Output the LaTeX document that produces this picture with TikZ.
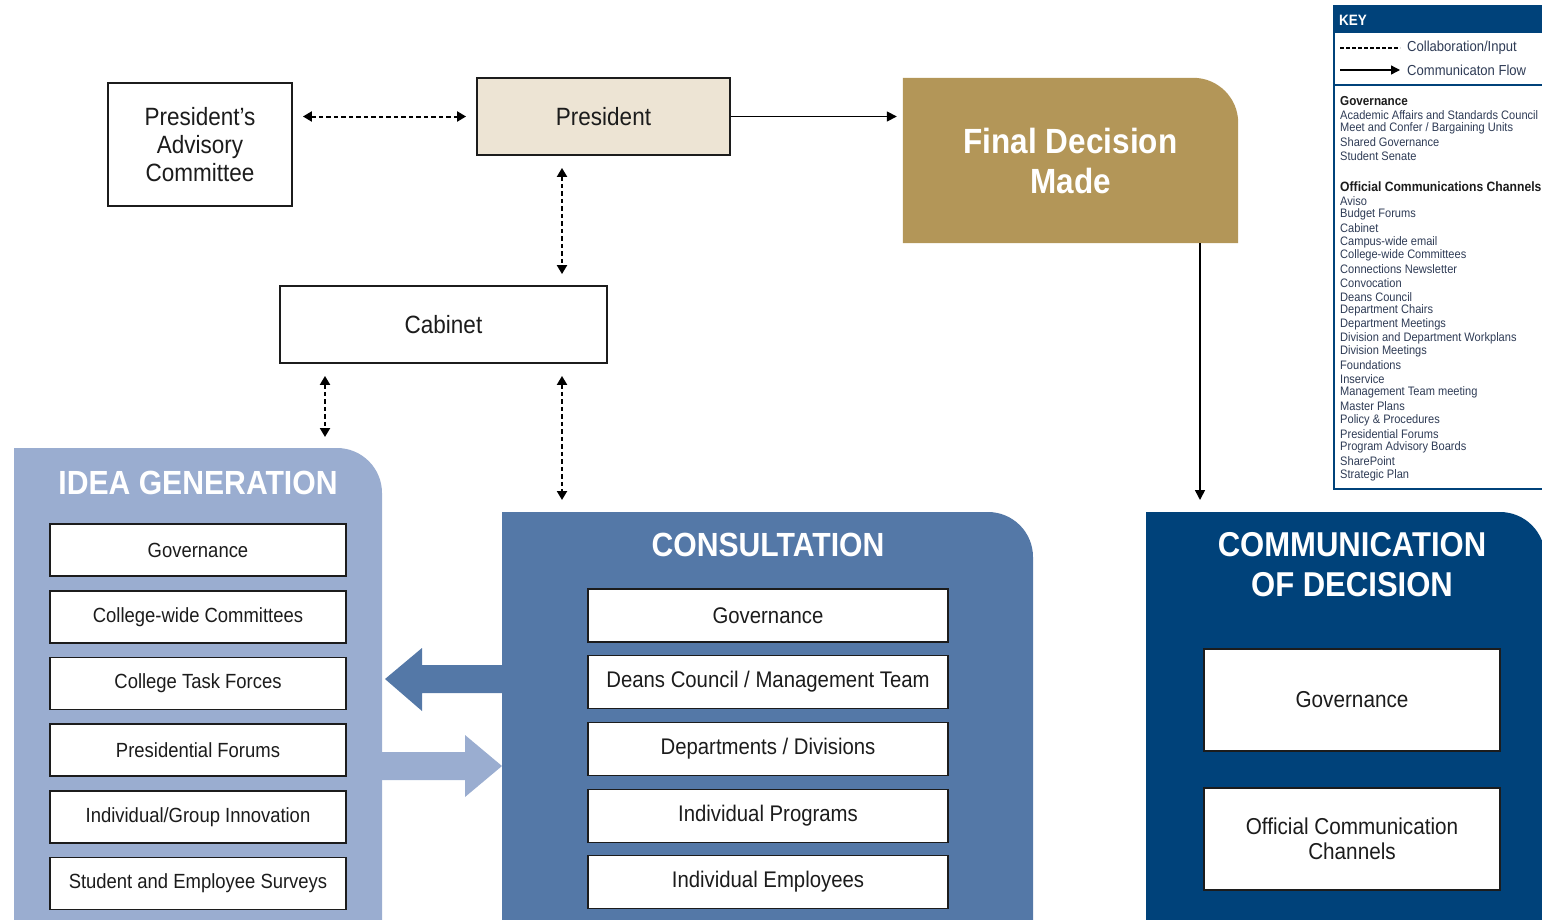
\documentclass[tikz,border=0pt]{standalone}
\usepackage{fontspec}
\setmainfont{Liberation Sans}[FakeStretch=0.9]
\usetikzlibrary{arrows.meta}
\usetikzlibrary{backgrounds}
\definecolor{ideablue}{HTML}{9AADD0}
\definecolor{consblue}{HTML}{5478A7}
\definecolor{navy}{HTML}{00427A}
\definecolor{gold}{HTML}{B39658}
\definecolor{beige}{HTML}{EDE4D4}
\definecolor{ink}{HTML}{1C1C1C}
\definecolor{keyink}{HTML}{2E3B55}
\tikzset{
box/.style={ % white boxes inside the panels
draw=ink,
line width=1.8pt,
fill=white,
inner sep=0pt,
align=center,
text=ink},
ideabox/.style={box, minimum width=296pt, minimum height=52pt, font=\fontsize{20.5}{22}\selectfont},
consbox/.style={box, minimum width=360pt, minimum height=53pt, font=\fontsize{22.6}{24}\selectfont},
commbox/.style={box, minimum width=296pt, minimum height=102pt, font=\fontsize{23}{25}\selectfont},
topbox/.style={box, font=\fontsize{25}{28}\selectfont}, % boxes of the top row
title/.style={text=white, font=\bfseries\fontsize{33.5}{40}\selectfont, align=center},
collab/.style={ % dashed, both ways
{Triangle[length=9pt,width=10pt]}-{Triangle[length=9pt,width=10pt]},
line width=2pt,
dash pattern=on 4.5pt off 3pt},
flow/.style={ % solid, one way
-{Triangle[length=10pt,width=10pt]},
line width=1.6pt},
keyitem/.style={anchor=west, inner sep=0pt, text=keyink, font=\fontsize{12.3}{12}\selectfont}}

\begin{document}
\begin{tikzpicture}[x=1pt, y=-1pt]
\useasboundingbox (0,0) rectangle (1542,919);

% panels
\fill[ideablue] (14,925) -- (14,448) -- (337,448) arc[start angle=90, end angle=0, radius=45pt] -- (382,925) -- cycle;
\fill[consblue] (502,925) -- (502,512) -- (988,512) arc[start angle=90, end angle=0, radius=45pt] -- (1033,925) -- cycle;
\fill[navy] (1146,925) -- (1146,512) -- (1500,512) arc[start angle=90, end angle=0, radius=45pt] -- (1545,925) -- cycle;
\coordinate (ideatop) at (325,448);
\coordinate (constop) at (562,512);
\coordinate (commtop) at (1200,512);

% top row
\node[topbox, minimum width=184pt, minimum height=123pt] (pac) at (200,144.5) {President's\\Advisory\\Committee};
\node[topbox, fill=beige, minimum width=253pt, minimum height=77pt] (pres) at (603.5,116.5) {President};
\node[topbox, minimum width=327pt, minimum height=77pt] (cab) at (443.5,324.5) {Cabinet};
\node[title, minimum width=335pt, minimum height=165pt, inner sep=0pt, font=\bfseries\fontsize{35}{40}\selectfont] (final) at (1070.5,160.5) {Final Decision\\Made};
\begin{scope}[on background layer]
\fill[gold] (final.south west) -- (final.north west) -- ([xshift=-45pt]final.north east) arc[start angle=90, end angle=0, radius=45pt] -- (final.south east) -- cycle;
\end{scope}

% titles of the panels
\node[title] (ideatitle) at (198,483) {IDEA GENERATION};
\node[title] (constitle) at (768,545) {CONSULTATION};
\node[title, font=\bfseries\fontsize{34.5}{40}\selectfont] (commtitle) at (1352,565) {COMMUNICATION\\OF DECISION};

% idea generation
\node[ideabox] (ig1) at (198,550) {Governance};
\node[ideabox] (ig2) at (198,617) {College-wide Committees};
\node[ideabox] (ig3) at (198,683.5) {College Task Forces};
\node[ideabox] (ig4) at (198,750) {Presidential Forums};
\node[ideabox] (ig5) at (198,817) {Individual/Group Innovation};
\node[ideabox] (ig6) at (198,883.5) {Student and Employee Surveys};

% consultation
\node[consbox] (cs1) at (768,615.5) {Governance};
\node[consbox] (cs2) at (768,682) {Deans Council / Management Team};
\node[consbox] (cs3) at (768,749) {Departments / Divisions};
\node[consbox] (cs4) at (768,816) {Individual Programs};
\node[consbox] (cs5) at (768,882) {Individual Employees};

% communication of decision
\node[commbox] (cd1) at (1352,700) {Governance};
\node[commbox] (cd2) at (1352,839) {Official Communication\\Channels};

% block arrows between the panels
\fill[consblue] (502,665) -- (422,665) -- (422,648) -- (385,679) -- (422,711) -- (422,693) -- (502,693) -- cycle;
\fill[ideablue] (382,752) -- (465,752) -- (465,735) -- (502,766) -- (465,797) -- (465,780) -- (382,780) -- cycle;

% connectors
\draw[collab, shorten <=10pt, shorten >=10pt] (pac.east |- pres) -- (pres.west);
\draw[flow, shorten >=6pt] (pres.east) -- (final.west |- pres);
\draw[collab, shorten <=12pt, shorten >=11pt] (pres.south -| 562,0) -- (cab.north -| 562,0);
\draw[collab, shorten <=12pt, shorten >=11pt] (cab.south -| ideatop) -- (ideatop);
\draw[collab, shorten <=12pt, shorten >=12pt] (cab.south -| constop) -- (constop);
\draw[flow, shorten >=12pt] (final.south -| commtop) -- (commtop);

% key
\draw[navy, line width=2pt] (1334,6) rectangle (1550,489);
\fill[navy] (1333,5) rectangle (1550,33);
\draw[navy, line width=1.5pt] (1334,85) -- (1550,85);
\node[anchor=west, inner sep=0pt, text=white, font=\bfseries\fontsize{15}{15}\selectfont] (keytitle) at (1339,20) {KEY};
\coordinate (kd1) at (1340,48);
\coordinate (kd2) at (1400,48);
\coordinate (kf1) at (1340,70);
\coordinate (kf2) at (1400,70);
\draw[line width=1.2pt, dash pattern=on 3.5pt off 2.5pt] (kd1) -- (kd2);
\draw[line width=1.3pt, -{Triangle[length=9pt,width=9pt]}] (kf1) -- (kf2);
\node[keyitem, font=\fontsize{14.5}{15}\selectfont] (kcollab) at (1407,48) {Collaboration/Input};
\node[keyitem, font=\fontsize{14.5}{15}\selectfont] (kflow) at (1407,70) {Communicaton Flow};
\node[keyitem, text=ink, font=\bfseries\fontsize{13}{13}\selectfont] (kgov) at (1340,101) {Governance};
\foreach \item [count=\i] in {Academic Affairs and Standards Council, Meet and Confer / Bargaining Units, Shared Governance, Student Senate}
  \node[keyitem] (kg\i) at (1340,101+13.7*\i) {\item};
\node[keyitem, text=ink, font=\bfseries\fontsize{13.5}{13}\selectfont] (kocc) at (1340,187) {Official Communications Channels};
\foreach \item [count=\i] in {Aviso, Budget Forums, Cabinet, Campus-wide email, College-wide Committees, Connections Newsletter, Convocation, Deans Council, Department Chairs, Department Meetings, Division and Department Workplans, Division Meetings, Foundations, Inservice, Management Team meeting, Master Plans, Policy \& Procedures, Presidential Forums, Program Advisory Boards, SharePoint, Strategic Plan}
  \node[keyitem] (ko\i) at (1340,187+13.72*\i) {\item};
\end{tikzpicture}
\end{document}
